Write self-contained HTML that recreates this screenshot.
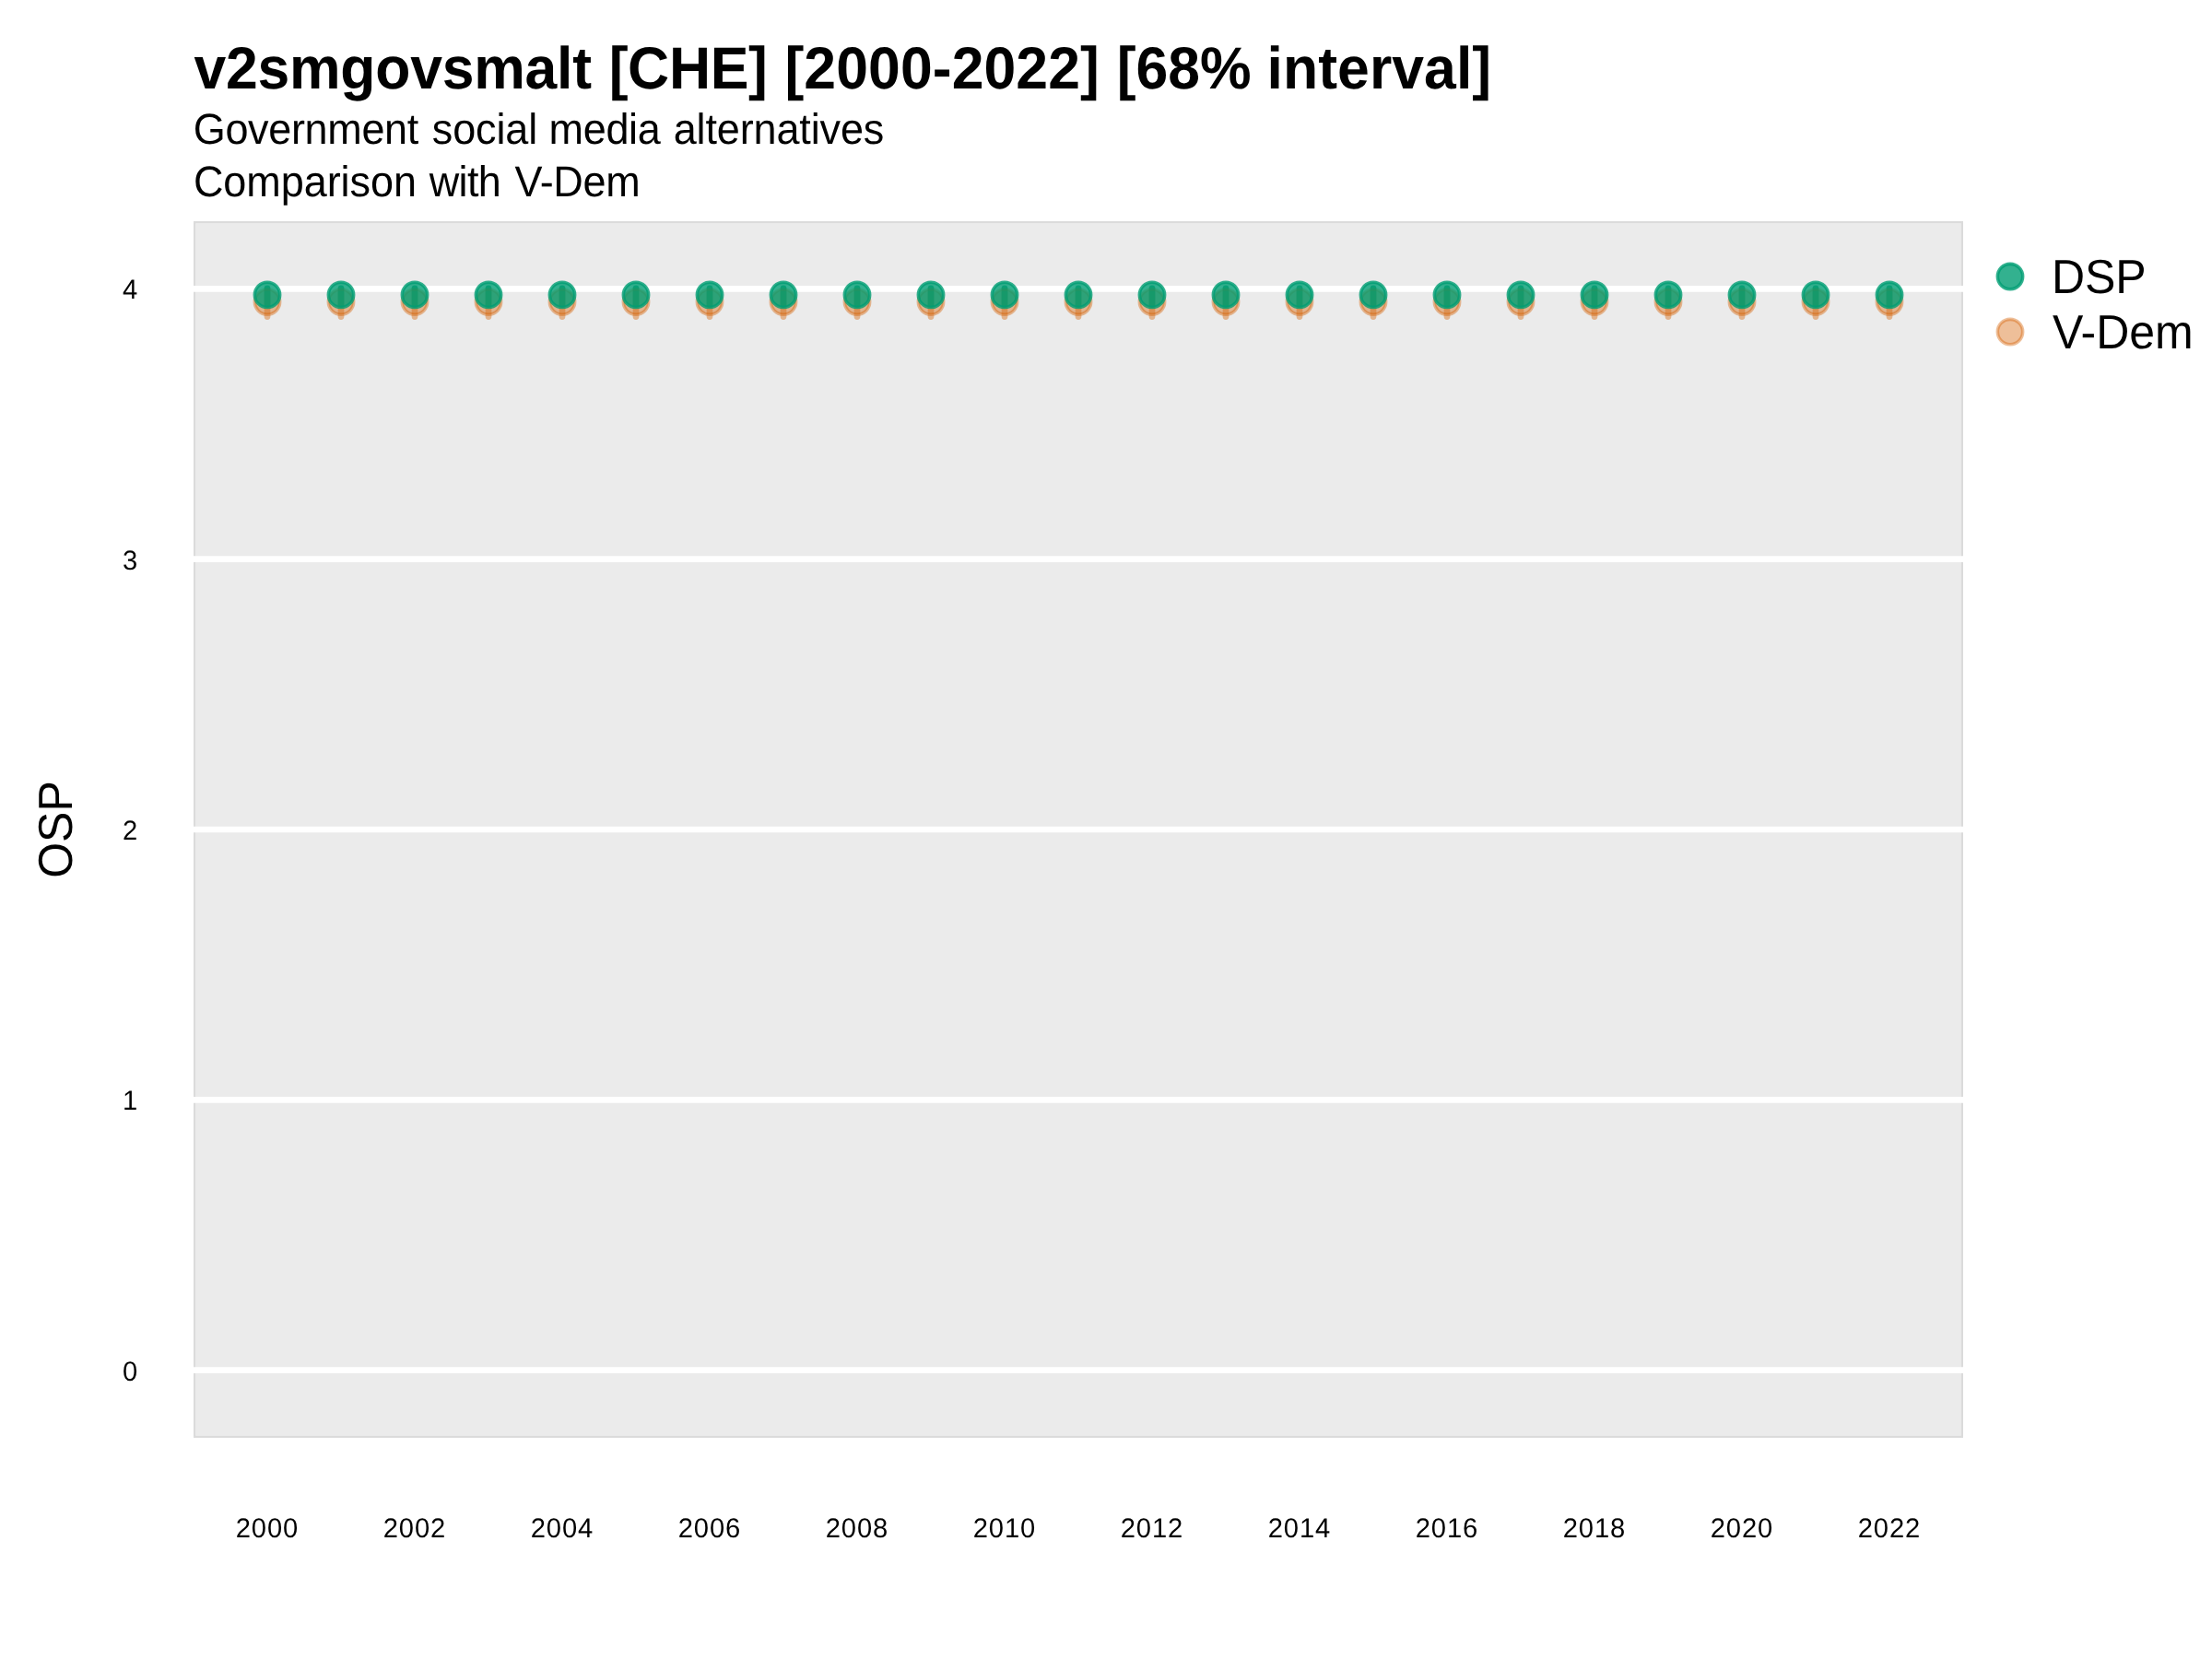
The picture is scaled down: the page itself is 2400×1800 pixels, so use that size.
<!DOCTYPE html>
<html><head><meta charset="utf-8"><title>v2smgovsmalt CHE</title>
<style>
html,body{margin:0;padding:0;background:#fff;}
svg{display:block;font-family:"Liberation Sans",sans-serif;text-rendering:geometricPrecision;}
</style></head><body>
<svg width="2400" height="1800" viewBox="0 0 2400 1800">
<rect x="0" y="0" width="2400" height="1800" fill="#ffffff"/>
<defs><clipPath id="pc"><rect x="210" y="240" width="1920" height="1320"/></clipPath></defs>
<g clip-path="url(#pc)">
<rect x="210" y="240" width="1920" height="1320" fill="#EBEBEB" stroke="#DBDBDB" stroke-width="4.2"/>
<line x1="210" x2="2130" y1="1486.67" y2="1486.67" stroke="#ffffff" stroke-width="6.67"/>
<line x1="210" x2="2130" y1="1193.33" y2="1193.33" stroke="#ffffff" stroke-width="6.67"/>
<line x1="210" x2="2130" y1="900.00" y2="900.00" stroke="#ffffff" stroke-width="6.67"/>
<line x1="210" x2="2130" y1="606.67" y2="606.67" stroke="#ffffff" stroke-width="6.67"/>
<line x1="210" x2="2130" y1="313.33" y2="313.33" stroke="#ffffff" stroke-width="6.67"/>
<g stroke="#D55E00" stroke-opacity="0.4" stroke-width="6.67" stroke-linecap="round">
<line x1="290" x2="290" y1="313.3" y2="343.6"/><line x1="370" x2="370" y1="313.3" y2="343.6"/><line x1="450" x2="450" y1="313.3" y2="343.6"/><line x1="530" x2="530" y1="313.3" y2="343.6"/><line x1="610" x2="610" y1="313.3" y2="343.6"/><line x1="690" x2="690" y1="313.3" y2="343.6"/><line x1="770" x2="770" y1="313.3" y2="343.6"/><line x1="850" x2="850" y1="313.3" y2="343.6"/><line x1="930" x2="930" y1="313.3" y2="343.6"/><line x1="1010" x2="1010" y1="313.3" y2="343.6"/><line x1="1090" x2="1090" y1="313.3" y2="343.6"/><line x1="1170" x2="1170" y1="313.3" y2="343.6"/><line x1="1250" x2="1250" y1="313.3" y2="343.6"/><line x1="1330" x2="1330" y1="313.3" y2="343.6"/><line x1="1410" x2="1410" y1="313.3" y2="343.6"/><line x1="1490" x2="1490" y1="313.3" y2="343.6"/><line x1="1570" x2="1570" y1="313.3" y2="343.6"/><line x1="1650" x2="1650" y1="313.3" y2="343.6"/><line x1="1730" x2="1730" y1="313.3" y2="343.6"/><line x1="1810" x2="1810" y1="313.3" y2="343.6"/><line x1="1890" x2="1890" y1="313.3" y2="343.6"/><line x1="1970" x2="1970" y1="313.3" y2="343.6"/><line x1="2050" x2="2050" y1="313.3" y2="343.6"/>
</g>
<g stroke="#009E73" stroke-opacity="0.8" stroke-width="6.67" stroke-linecap="round">
<line x1="290" x2="290" y1="312.75" y2="330.5"/><line x1="370" x2="370" y1="312.75" y2="330.5"/><line x1="450" x2="450" y1="312.75" y2="330.5"/><line x1="530" x2="530" y1="312.75" y2="330.5"/><line x1="610" x2="610" y1="312.75" y2="330.5"/><line x1="690" x2="690" y1="312.75" y2="330.5"/><line x1="770" x2="770" y1="312.75" y2="330.5"/><line x1="850" x2="850" y1="312.75" y2="330.5"/><line x1="930" x2="930" y1="312.75" y2="330.5"/><line x1="1010" x2="1010" y1="312.75" y2="330.5"/><line x1="1090" x2="1090" y1="312.75" y2="330.5"/><line x1="1170" x2="1170" y1="312.75" y2="330.5"/><line x1="1250" x2="1250" y1="312.75" y2="330.5"/><line x1="1330" x2="1330" y1="312.75" y2="330.5"/><line x1="1410" x2="1410" y1="312.75" y2="330.5"/><line x1="1490" x2="1490" y1="312.75" y2="330.5"/><line x1="1570" x2="1570" y1="312.75" y2="330.5"/><line x1="1650" x2="1650" y1="312.75" y2="330.5"/><line x1="1730" x2="1730" y1="312.75" y2="330.5"/><line x1="1810" x2="1810" y1="312.75" y2="330.5"/><line x1="1890" x2="1890" y1="312.75" y2="330.5"/><line x1="1970" x2="1970" y1="312.75" y2="330.5"/><line x1="2050" x2="2050" y1="312.75" y2="330.5"/>
</g>
<g fill="#D55E00" fill-opacity="0.4" stroke="#D55E00" stroke-opacity="0.4" stroke-width="3.55">
<circle cx="290" cy="327.6" r="13.65"/><circle cx="370" cy="327.6" r="13.65"/><circle cx="450" cy="327.6" r="13.65"/><circle cx="530" cy="327.6" r="13.65"/><circle cx="610" cy="327.6" r="13.65"/><circle cx="690" cy="327.6" r="13.65"/><circle cx="770" cy="327.6" r="13.65"/><circle cx="850" cy="327.6" r="13.65"/><circle cx="930" cy="327.6" r="13.65"/><circle cx="1010" cy="327.6" r="13.65"/><circle cx="1090" cy="327.6" r="13.65"/><circle cx="1170" cy="327.6" r="13.65"/><circle cx="1250" cy="327.6" r="13.65"/><circle cx="1330" cy="327.6" r="13.65"/><circle cx="1410" cy="327.6" r="13.65"/><circle cx="1490" cy="327.6" r="13.65"/><circle cx="1570" cy="327.6" r="13.65"/><circle cx="1650" cy="327.6" r="13.65"/><circle cx="1730" cy="327.6" r="13.65"/><circle cx="1810" cy="327.6" r="13.65"/><circle cx="1890" cy="327.6" r="13.65"/><circle cx="1970" cy="327.6" r="13.65"/><circle cx="2050" cy="327.6" r="13.65"/>
</g>
<g fill="#009E73" fill-opacity="0.8" stroke="#009E73" stroke-opacity="0.8" stroke-width="3.55">
<circle cx="290" cy="319.9" r="13.65"/><circle cx="370" cy="319.9" r="13.65"/><circle cx="450" cy="319.9" r="13.65"/><circle cx="530" cy="319.9" r="13.65"/><circle cx="610" cy="319.9" r="13.65"/><circle cx="690" cy="319.9" r="13.65"/><circle cx="770" cy="319.9" r="13.65"/><circle cx="850" cy="319.9" r="13.65"/><circle cx="930" cy="319.9" r="13.65"/><circle cx="1010" cy="319.9" r="13.65"/><circle cx="1090" cy="319.9" r="13.65"/><circle cx="1170" cy="319.9" r="13.65"/><circle cx="1250" cy="319.9" r="13.65"/><circle cx="1330" cy="319.9" r="13.65"/><circle cx="1410" cy="319.9" r="13.65"/><circle cx="1490" cy="319.9" r="13.65"/><circle cx="1570" cy="319.9" r="13.65"/><circle cx="1650" cy="319.9" r="13.65"/><circle cx="1730" cy="319.9" r="13.65"/><circle cx="1810" cy="319.9" r="13.65"/><circle cx="1890" cy="319.9" r="13.65"/><circle cx="1970" cy="319.9" r="13.65"/><circle cx="2050" cy="319.9" r="13.65"/>
</g>
</g>
<g fill="#000000" opacity="0.999">
<g transform="translate(0,96.05) scale(1,1.03)"><text y="0" font-size="62.5" font-weight="bold"><tspan x="210.54" letter-spacing="-0.252">v2smgovsmalt </tspan><tspan x="660.67" letter-spacing="-0.362">[CHE] </tspan><tspan x="851.47" letter-spacing="0.084">[2000-2022] </tspan><tspan x="1211.67" letter-spacing="0.025">[68% </tspan><tspan x="1374.54" letter-spacing="0.065">interval]</tspan></text></g>
<g transform="translate(0,156.0) scale(1,1.04)"><text y="0" font-size="45"><tspan x="209.74" letter-spacing="-0.34">Government </tspan><tspan x="468.83" letter-spacing="-0.14">social </tspan><tspan x="595.62" letter-spacing="-0.359">media </tspan><tspan x="730.72" letter-spacing="-0.14">alternatives</tspan></text></g>
<g transform="translate(0,213.0) scale(1,1.04)"><text y="0" font-size="45"><tspan x="209.91" letter-spacing="-0.058">Comparison </tspan><tspan x="465.63" letter-spacing="-0.591">with </tspan><tspan x="558.43" letter-spacing="-0.292">V-Dem</tspan></text></g>
<g text-anchor="middle">
<text transform="translate(141.1,1498) scale(1,1.02)" font-size="29.17">0</text><text transform="translate(141.1,1204) scale(1,1.02)" font-size="29.17">1</text><text transform="translate(141.1,911) scale(1,1.02)" font-size="29.17">2</text><text transform="translate(141.1,618) scale(1,1.02)" font-size="29.17">3</text><text transform="translate(141.1,324) scale(1,1.02)" font-size="29.17">4</text>
</g>
<g letter-spacing="0.85">
<text transform="translate(255.76,1667.6) scale(1,1.02)" font-size="29.17">2000</text><text transform="translate(415.76,1667.6) scale(1,1.02)" font-size="29.17">2002</text><text transform="translate(575.76,1667.6) scale(1,1.02)" font-size="29.17">2004</text><text transform="translate(735.76,1667.6) scale(1,1.02)" font-size="29.17">2006</text><text transform="translate(895.76,1667.6) scale(1,1.02)" font-size="29.17">2008</text><text transform="translate(1055.76,1667.6) scale(1,1.02)" font-size="29.17">2010</text><text transform="translate(1215.76,1667.6) scale(1,1.02)" font-size="29.17">2012</text><text transform="translate(1375.76,1667.6) scale(1,1.02)" font-size="29.17">2014</text><text transform="translate(1535.76,1667.6) scale(1,1.02)" font-size="29.17">2016</text><text transform="translate(1695.76,1667.6) scale(1,1.02)" font-size="29.17">2018</text><text transform="translate(1855.76,1667.6) scale(1,1.02)" font-size="29.17">2020</text><text transform="translate(2015.76,1667.6) scale(1,1.02)" font-size="29.17">2022</text>
</g>
<text transform="translate(77.8,900) rotate(-90) scale(1,1.04)" font-size="50" text-anchor="middle">OSP</text>
<text transform="translate(2225.98,317.6) scale(1,1.04)" font-size="50" letter-spacing="-0.06">DSP</text>
<text transform="translate(2227.06,377.8) scale(1,1.04)" font-size="50" letter-spacing="-0.04">V-Dem</text>
</g>
<circle cx="2181" cy="300" r="13.65" fill="#009E73" fill-opacity="0.8" stroke="#009E73" stroke-opacity="0.8" stroke-width="3.55"/>
<circle cx="2181" cy="360" r="13.65" fill="#D55E00" fill-opacity="0.4" stroke="#D55E00" stroke-opacity="0.4" stroke-width="3.55"/>
</svg>
</body></html>
